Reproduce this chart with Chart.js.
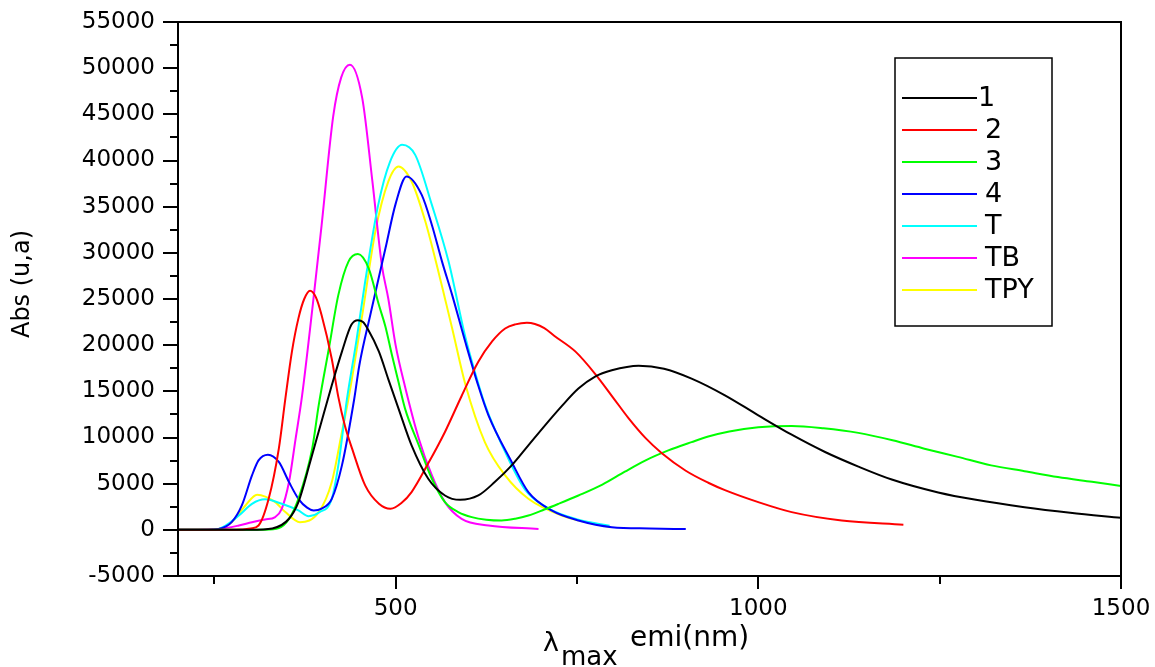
<!DOCTYPE html>
<html>
<head>
<meta charset="utf-8">
<script src="https://cdn.jsdelivr.net/npm/chart.js@4.4.1/dist/chart.umd.min.js"></script>
<style>
  html, body { margin: 0; padding: 0; background: #fff; }
  #wrap { width: 1155px; height: 667px; position: relative; }
</style>
</head>
<body>
<div id="wrap"><canvas id="emiChart"></canvas></div>
<script>
// emission spectra, wavelength (nm) vs absorbance
var wl1  = [200, 300, 330, 353, 366, 382, 397, 412, 426, 439, 448, 455, 462, 477, 490, 504, 522, 545, 568, 589, 614, 637, 660, 683, 706, 729, 752, 775, 798, 835, 870, 908, 954, 1000, 1046, 1092, 1138, 1184, 1248, 1300, 1367, 1430, 1500];
var abs1 = [0, 0, 150, 1200, 3000, 7300, 11500, 15650, 19300, 22200, 22700, 22500, 21700, 19300, 16300, 13130, 9150, 5530, 3720, 3250, 3720, 5200, 6980, 9150, 11320, 13400, 15300, 16600, 17280, 17780, 17450, 16380, 14570, 12400, 10300, 8430, 6850, 5450, 4050, 3250, 2450, 1850, 1300];

var wl2  = [200, 280, 300, 311, 325, 339, 348, 357, 366, 374, 382, 390, 398, 412, 421, 430, 440, 458, 477, 493, 508, 522, 545, 568, 591, 614, 633, 651, 665, 681, 692, 705, 719, 748, 775, 800, 821, 845, 867, 900, 931, 954, 1000, 1046, 1115, 1200];
var abs2 = [0, 0, 150, 470, 3360, 8790, 14200, 19280, 22900, 25000, 25900, 25200, 23250, 18500, 14400, 11300, 8790, 4810, 2820, 2280, 2900, 4090, 7200, 10600, 14500, 18200, 20400, 21800, 22250, 22430, 22300, 21850, 21000, 19300, 16900, 14300, 12100, 9900, 8300, 6400, 5100, 4300, 3000, 1920, 1010, 540];

var wl3  = [200, 320, 339, 353, 366, 385, 394, 408, 421, 435, 448, 463, 477, 486, 495, 504, 513, 532, 550, 568, 587, 605, 625, 646, 665, 683, 705, 724, 752, 785, 816, 844, 876, 908, 931, 960, 1000, 1046, 1090, 1138, 1185, 1229, 1275, 1321, 1367, 1413, 1460, 1500];
var abs3 = [0, 20, 200, 1190, 3360, 8790, 13500, 19640, 25420, 29050, 29870, 28300, 24340, 22000, 18900, 16000, 13130, 9150, 5530, 3000, 1900, 1380, 1100, 1010, 1200, 1550, 2200, 2800, 3720, 4900, 6300, 7500, 8600, 9500, 10100, 10650, 11100, 11250, 11000, 10500, 9700, 8790, 7900, 6980, 6350, 5720, 5200, 4750];

var wl4  = [200, 240, 256, 274, 288, 302, 311, 324, 339, 353, 366, 378, 387, 398, 412, 426, 443, 450, 465, 486, 500, 515, 536, 550, 564, 578, 596, 614, 628, 660, 683, 715, 752, 798, 850, 900];
var abs4 = [0, 20, 100, 830, 2640, 5890, 7520, 8140, 7350, 5175, 3360, 2400, 2100, 2300, 3360, 6980, 14200, 17830, 23250, 30490, 35300, 38270, 36270, 33020, 29050, 25420, 20370, 15600, 12400, 7350, 4090, 2100, 1010, 290, 150, 80];

var wlT  = [200, 240, 256, 284, 302, 320, 343, 366, 380, 395, 412, 421, 433, 446, 458, 476, 492, 509, 527, 550, 573, 596, 610, 623, 656, 679, 711, 752, 795];
var absT = [0, 20, 100, 1550, 2820, 3300, 2820, 2100, 1480, 1900, 3360, 6980, 14200, 20500, 26870, 35190, 39800, 41700, 40610, 35190, 29050, 20900, 16900, 13600, 7600, 4300, 2300, 1100, 450];

var wlTB  = [200, 256, 284, 302, 320, 334, 343, 353, 362, 371, 386, 398, 414, 425, 437, 454, 468, 481, 490, 500, 513, 532, 550, 568, 591, 628, 697];
var absTB = [0, 100, 470, 830, 1120, 1380, 2280, 5175, 9800, 14500, 24500, 33000, 44800, 49000, 50380, 46760, 37730, 28680, 25000, 20000, 15500, 9870, 5890, 3000, 1190, 470, 100];

var wlTPY  = [200, 240, 256, 274, 293, 309, 334, 348, 368, 394, 412, 426, 435, 454, 472, 490, 504, 522, 541, 559, 568, 578, 596, 623, 651, 683, 729, 796];
var absTPY = [0, 20, 100, 830, 2640, 3800, 3000, 1920, 830, 1920, 5175, 10600, 14200, 23250, 32300, 37730, 39350, 37730, 33390, 27960, 25060, 21810, 15800, 9510, 5890, 3360, 1550, 290];

var seriesNames = ['1', '2', '3', '4', 'T', 'TB', 'TPY'];
var xTicks = [250, 500, 750, 1000, 1250, 1500];

function pts(xs, ys) {
    return xs.map(function (x, i) { return { x: x, y: ys[i] }; });
}

function makeSet(label, xs, ys, color) {
    return {
        label: label,
        data: pts(xs, ys),
        borderColor: color,
        backgroundColor: color,
        borderWidth: 2,
        pointRadius: 0,
        fill: false,
        cubicInterpolationMode: 'monotone'
    };
}

// no extra room for the edge labels, the layout padding handles it
function noPad(scale) {
    scale.paddingLeft = 0;
    scale.paddingRight = 0;
    scale.paddingTop = 0;
    scale.paddingBottom = 0;
}

Chart.defaults.font.family = 'DejaVu Sans';
Chart.defaults.color = '#000';

// frame plus long/short tick marks, as the original plot has them
var frameTicks = {
    id: 'frameTicks',
    afterDraw: function (chart) {
        var ctx = chart.ctx, a = chart.chartArea, x = chart.scales.x, y = chart.scales.y;
        ctx.save();
        ctx.strokeStyle = '#000';
        ctx.lineWidth = 2;
        ctx.strokeRect(a.left, a.top, a.right - a.left, a.bottom - a.top);
        ctx.beginPath();
        y.ticks.forEach(function (t) {
            var py = Math.round(y.getPixelForValue(t.value));
            var len = t.value % 5000 === 0 ? 15 : 8;
            ctx.moveTo(a.left - len, py);
            ctx.lineTo(a.left, py);
        });
        xTicks.forEach(function (v) {
            var px = Math.round(x.getPixelForValue(v));
            var len = v % 500 === 0 ? 13 : 8;
            ctx.moveTo(px, a.bottom);
            ctx.lineTo(px, a.bottom + len);
        });
        ctx.stroke();
        ctx.restore();
    }
};

// axis titles; the x one has the "max" subscript
var axisTitles = {
    id: 'axisTitles',
    afterDraw: function (chart) {
        var ctx = chart.ctx;
        ctx.save();
        ctx.fillStyle = '#000';
        ctx.textAlign = 'left';
        ctx.textBaseline = 'alphabetic';
        ctx.font = '27px "DejaVu Sans"';
        ctx.fillText('\u03bb', 543, 651);
        ctx.font = '26px "DejaVu Sans"';
        ctx.fillText('max', 561, 665);
        ctx.font = '28px "DejaVu Sans"';
        ctx.fillText('emi(nm)', 630, 646);

        ctx.translate(23, 284);
        ctx.rotate(-Math.PI / 2);
        ctx.textAlign = 'center';
        ctx.textBaseline = 'middle';
        ctx.font = '24px "DejaVu Sans"';
        ctx.fillText('Abs (u,a)', 0, 0);
        ctx.restore();
    }
};

// boxed legend inside the plot
var boxLegend = {
    id: 'boxLegend',
    afterDraw: function (chart) {
        var ctx = chart.ctx;
        ctx.save();
        ctx.strokeStyle = '#000';
        ctx.lineWidth = 1.5;
        ctx.strokeRect(895, 58, 157, 268);
        ctx.font = '27px "DejaVu Sans"';
        ctx.textBaseline = 'middle';
        ctx.fillStyle = '#000';
        chart.data.datasets.forEach(function (ds, i) {
            var ly = 98 + i * 32;
            ctx.strokeStyle = ds.borderColor;
            ctx.lineWidth = 1.8;
            ctx.beginPath();
            ctx.moveTo(902, ly);
            ctx.lineTo(977, ly);
            ctx.stroke();
            ctx.fillText(ds.label, i === 0 ? 978 : 985, ly + 1);
        });
        ctx.restore();
    }
};

var ctxEmi = document.getElementById('emiChart');

var emiChart = new Chart(ctxEmi, {
    type: 'line',
    data: {
        datasets: [
            makeSet(seriesNames[0], wl1, abs1, '#000000'),
            makeSet(seriesNames[1], wl2, abs2, '#ff0000'),
            makeSet(seriesNames[2], wl3, abs3, '#00ff00'),
            makeSet(seriesNames[3], wl4, abs4, '#0000ff'),
            makeSet(seriesNames[4], wlT, absT, '#00ffff'),
            makeSet(seriesNames[5], wlTB, absTB, '#ff00ff'),
            makeSet(seriesNames[6], wlTPY, absTPY, '#ffff00')
        ]
    },
    options: {
        responsive: true,
        maintainAspectRatio: false,
        animation: false,
        layout: { padding: { left: 0, right: 34, top: 22, bottom: 0 } },
        plugins: {
            legend: { display: false },
            tooltip: { enabled: false }
        },
        scales: {
            x: {
                type: 'linear',
                min: 200,
                max: 1500,
                grid: { display: false },
                border: { display: false },
                afterBuildTicks: function (scale) {
                    scale.ticks = xTicks.map(function (v) { return { value: v }; });
                },
                ticks: {
                    autoSkip: false,
                    maxRotation: 0,
                    padding: 11,
                    font: { size: 23 },
                    color: '#000',
                    callback: function (v) { return v % 500 === 0 ? String(v) : ''; }
                },
                afterFit: function (scale) { scale.height = 91; noPad(scale); }
            },
            y: {
                min: -5000,
                max: 55000,
                grid: { display: false },
                border: { display: false },
                ticks: {
                    stepSize: 2500,
                    autoSkip: false,
                    padding: 15,
                    font: { size: 23 },
                    color: '#000',
                    callback: function (v) { return v % 5000 === 0 ? String(v) : ''; }
                },
                afterFit: function (scale) { scale.width = 178; noPad(scale); }
            }
        }
    },
    plugins: [frameTicks, axisTitles, boxLegend]
});
</script>
</body>
</html>
